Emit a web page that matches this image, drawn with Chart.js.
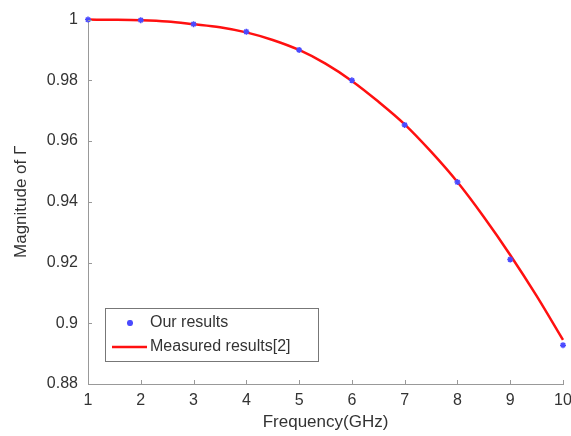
<!DOCTYPE html>
<html>
<head>
<meta charset="utf-8">
<script src="https://cdn.jsdelivr.net/npm/chart.js@4"></script>
<style>
  html, body { margin: 0; padding: 0; background: #fff; }
  #wrap { width: 571px; height: 436px; }
</style>
</head>
<body>
<div id="wrap"><canvas id="chart" width="571" height="436"></canvas></div>
<script>
// Datos
const freqPoints = [1, 2, 3, 4, 5, 6, 7, 8, 9, 10];
const ourResults = [1.0, 0.9998, 0.9985, 0.996, 0.990, 0.980, 0.9653, 0.9465, 0.921, 0.8928];

const freqLine = [1, 1.5, 2, 2.5, 3, 3.5, 4, 4.5, 5, 5.5, 6, 6.5, 7, 7.5, 8, 8.5, 9, 9.5, 10];
const measured = [1.0, 0.99995, 0.9998, 0.9994, 0.9985, 0.9975, 0.9958, 0.9933, 0.990, 0.9855,
  0.9798, 0.973, 0.9655, 0.9565, 0.9465, 0.935, 0.9225, 0.909, 0.8945];

const xTicks = [1, 2, 3, 4, 5, 6, 7, 8, 9, 10];
const yTicks = [0.88, 0.9, 0.92, 0.94, 0.96, 0.98, 1];

const textColor = '#333';
const axisColor = '#999';

// Marcas de eje hacia dentro
const innerTicks = {
  id: 'innerTicks',
  afterDatasetsDraw(chart) {
    const { ctx, chartArea, scales } = chart;
    ctx.save();
    ctx.strokeStyle = axisColor;
    ctx.lineWidth = 1;
    ctx.beginPath();
    scales.x.ticks.forEach(t => {
      const px = Math.round(scales.x.getPixelForValue(t.value)) + 0.5;
      ctx.moveTo(px, chartArea.bottom);
      ctx.lineTo(px, chartArea.bottom - 4);
    });
    scales.y.ticks.forEach(t => {
      const py = Math.round(scales.y.getPixelForValue(t.value)) + 0.5;
      ctx.moveTo(chartArea.left, py);
      ctx.lineTo(chartArea.left + 4, py);
    });
    ctx.stroke();
    ctx.restore();
  }
};

// Leyenda con recuadro dentro del area de la grafica
const boxLegend = {
  id: 'boxLegend',
  afterDraw(chart) {
    const { ctx, chartArea } = chart;
    const x0 = chartArea.left + 17;
    const y0 = chartArea.bottom - 76;
    const w = 213, h = 53;
    ctx.save();
    ctx.fillStyle = '#fff';
    ctx.fillRect(x0, y0, w, h);
    ctx.strokeStyle = '#777';
    ctx.lineWidth = 1;
    ctx.strokeRect(x0 + 0.5, y0 + 0.5, w, h);

    const ds0 = chart.data.datasets[0];
    const ds1 = chart.data.datasets[1];
    const row1 = y0 + 15, row2 = y0 + 39;

    // estrella
    Chart.helpers.drawPoint(ctx, {
      pointStyle: 'star', radius: 3, rotation: 0, borderWidth: 1.5
    }, x0 + 25, row1);
    ctx.strokeStyle = ds0.borderColor;
    ctx.lineWidth = 1.5;
    Chart.helpers.drawPoint(ctx, { pointStyle: 'star', radius: 3, rotation: 0, borderWidth: 1.5 }, x0 + 25, row1);
    ctx.stroke();

    // linea
    ctx.strokeStyle = ds1.borderColor;
    ctx.lineWidth = 2.5;
    ctx.beginPath();
    ctx.moveTo(x0 + 7, row2);
    ctx.lineTo(x0 + 42, row2);
    ctx.stroke();

    ctx.fillStyle = textColor;
    ctx.font = '16px "Liberation Sans", Arial, sans-serif';
    ctx.textBaseline = 'middle';
    ctx.textAlign = 'left';
    ctx.fillText(ds0.label, x0 + 45, row1);
    ctx.fillText(ds1.label, x0 + 45, row2);
    ctx.restore();
  }
};

const ctx = document.getElementById('chart').getContext('2d');

new Chart(ctx, {
  type: 'scatter',
  data: {
    datasets: [
      {
        label: 'Our results',
        data: freqPoints.map((f, i) => ({ x: f, y: ourResults[i] })),
        showLine: false,
        pointStyle: 'star',
        pointRadius: 3,
        pointBorderWidth: 1.5,
        borderColor: '#4a4aff',
        backgroundColor: '#4a4aff',
        clip: false
      },
      {
        label: 'Measured results[2]',
        data: freqLine.map((f, i) => ({ x: f, y: measured[i] })),
        showLine: true,
        borderColor: '#ff1010',
        borderWidth: 2.5,
        pointRadius: 0,
        cubicInterpolationMode: 'monotone',
        fill: false,
        clip: false
      }
    ]
  },
  options: {
    responsive: false,
    animation: false,
    devicePixelRatio: 1,
    layout: { padding: { top: 18, right: 0, bottom: 0, left: 0 } },
    plugins: {
      legend: { display: false },
      tooltip: { enabled: false }
    },
    scales: {
      x: {
        type: 'linear',
        min: 1,
        max: 10,
        afterBuildTicks: s => { s.ticks = xTicks.map(v => ({ value: v })); },
        afterFit: s => { s.height = 52; s.paddingLeft = 0; s.paddingRight = 8; },
        grid: { drawOnChartArea: false, drawTicks: false },
        border: { color: axisColor, width: 1 },
        ticks: {
          padding: 7,
          color: textColor,
          font: { family: '"Liberation Sans", Arial, sans-serif', size: 16 },
          maxRotation: 0
        },
        title: {
          display: true,
          text: 'Frequency(GHz)',
          color: textColor,
          font: { family: '"Liberation Sans", Arial, sans-serif', size: 17 },
          padding: { top: 0, bottom: 3 }
        }
      },
      y: {
        type: 'linear',
        min: 0.88,
        max: 1,
        afterBuildTicks: s => { s.ticks = yTicks.map(v => ({ value: v })); },
        afterFit: s => { s.width = 88; },
        grid: { drawOnChartArea: false, drawTicks: false },
        border: { color: axisColor, width: 1 },
        ticks: {
          padding: 10,
          color: textColor,
          font: { family: '"Liberation Sans", Arial, sans-serif', size: 16 },
          callback: v => String(Number(v.toFixed(2)))
        },
        title: {
          display: true,
          text: 'Magnitude of Γ',
          color: textColor,
          font: { family: '"Liberation Sans", Arial, sans-serif', size: 17 },
          padding: { top: 11, bottom: 0 }
        }
      }
    }
  },
  plugins: [innerTicks, boxLegend]
});
</script>
</body>
</html>
